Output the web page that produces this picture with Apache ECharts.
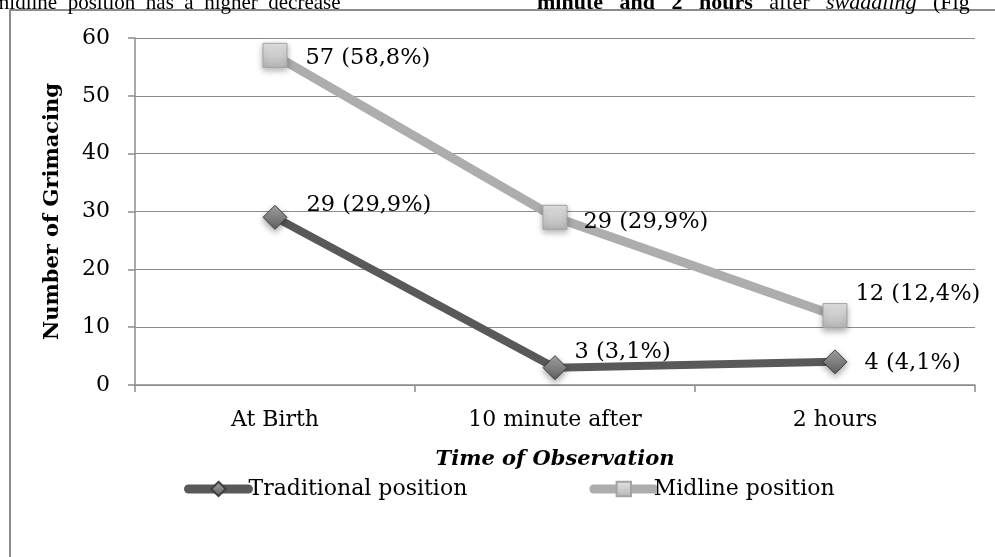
<!DOCTYPE html>
<html>
<head>
<meta charset="utf-8">
<script src="https://cdn.jsdelivr.net/npm/echarts@6/dist/echarts.min.js"></script>
<style>
  html, body { margin: 0; padding: 0; background: #fff; }
  #chart { width: 995px; height: 557px; }
</style>
</head>
<body>
<div id="chart"></div>
<script>
// Observation times on the x axis
const categories = ['At Birth', '10 minute after', '2 hours'];
// Number of grimacing infants per swaddling position
const traditional = [29, 3, 4];
const traditionalPct = ['29,9%', '3,1%', '4,1%'];
const midline = [57, 29, 12];
const midlinePct = ['58,8%', '29,9%', '12,4%'];
// Y axis scale
const yMin = 0, yMax = 60, yStep = 10;

// Per-point label nudges so labels sit beside their markers
const traditionalLabelOffsets = [[19, -12], [7, -15], [17, 1]];
const midlineLabelOffsets = [[18, 3], [16, 5], [8, -21]];

const serif = '"DejaVu Serif", "Liberation Serif", serif';
const bodyFont = '"Liberation Serif", serif';

function withLabels(values, pcts, offsets) {
  return values.map((v, i) => ({
    value: v,
    label: { offset: offsets[i], formatter: () => v + ' (' + pcts[i] + ')' }
  }));
}

const chart = echarts.init(document.getElementById('chart'), null, { renderer: 'canvas' });

chart.setOption({
  backgroundColor: '#ffffff',
  animation: false,
  graphic: [
    {
      type: 'rect',
      shape: { x: 10, y: 10, width: 1100, height: 700 },
      style: { fill: 'none', stroke: '#8c8c8c', lineWidth: 2 },
      silent: true
    },
    {
      type: 'text',
      style: {
        x: -7, y: 3,
        text: 'midline  position  has  a  higher  decrease',
        font: '21px ' + bodyFont,
        fill: '#000',
        verticalAlign: 'middle'
      },
      silent: true
    },
    {
      type: 'text',
      style: {
        x: 537, y: 3,
        text: '{b|minute   and   2   hours}   after   {i|swaddling}   (Fig',
        font: '22px ' + bodyFont,
        fill: '#000',
        verticalAlign: 'middle',
        rich: {
          b: { fontFamily: bodyFont, fontSize: 22, fontWeight: 'bold' },
          i: { fontFamily: bodyFont, fontSize: 22, fontStyle: 'italic' }
        }
      },
      silent: true
    }
  ],
  grid: { left: 135, right: 20, top: 38, bottom: 172, containLabel: false },
  xAxis: {
    type: 'category',
    data: categories,
    boundaryGap: true,
    name: 'Time of Observation',
    nameLocation: 'middle',
    nameGap: 64,
    nameTextStyle: { fontFamily: serif, fontSize: 21, fontWeight: 'bold', fontStyle: 'italic', color: '#000' },
    axisLine: { lineStyle: { color: '#8c8c8c', width: 1.5 } },
    axisTick: { show: true, length: 7, lineStyle: { color: '#8c8c8c', width: 1.5 } },
    axisLabel: { fontFamily: serif, fontSize: 22, color: '#000', margin: 24 },
    splitLine: { show: false }
  },
  yAxis: {
    type: 'value',
    min: yMin, max: yMax, interval: yStep,
    name: 'Number of Grimacing',
    nameLocation: 'middle',
    nameGap: 72,
    nameMoveOverlap: false,
    nameRotate: 90,
    nameTextStyle: { fontFamily: serif, fontSize: 21, fontWeight: 'bold', color: '#000' },
    axisLine: { show: true, lineStyle: { color: '#8c8c8c', width: 1.5 } },
    axisTick: { show: true, length: 7, lineStyle: { color: '#8c8c8c', width: 1.5 } },
    axisLabel: { fontFamily: serif, fontSize: 22, color: '#000', margin: 25 },
    splitLine: { show: true, lineStyle: { color: '#8c8c8c', width: 1.2 } }
  },
  legend: {
    left: 184, top: 478, padding: 0,
    itemWidth: 60, itemHeight: 18, itemGap: 122,
    textStyle: { fontFamily: serif, fontSize: 22, color: '#000', padding: [0, 0, 0, -5] },
    data: [
      { name: 'Traditional position', lineStyle: { width: 9, cap: 'round' } },
      { name: 'Midline position', lineStyle: { width: 9, cap: 'round' } }
    ]
  },
  series: [
    {
      name: 'Traditional position',
      type: 'line',
      data: withLabels(traditional, traditionalPct, traditionalLabelOffsets),
      symbol: 'diamond',
      symbolSize: 24,
      lineStyle: { color: '#595959', width: 8 },
      itemStyle: {
        color: new echarts.graphic.LinearGradient(0, 0, 0, 1, [
          { offset: 0, color: '#a6a6a6' },
          { offset: 1, color: '#5e5e5e' }
        ]),
        borderColor: '#3f3f3f', borderWidth: 1,
        shadowColor: 'rgba(0,0,0,0.35)', shadowBlur: 6, shadowOffsetY: 3
      },
      label: {
        show: true, position: 'right', distance: 0,
        fontFamily: serif, fontSize: 22.5, color: '#000'
      },
      z: 3
    },
    {
      name: 'Midline position',
      type: 'line',
      data: withLabels(midline, midlinePct, midlineLabelOffsets),
      symbol: 'rect',
      symbolSize: 24,
      lineStyle: { color: '#adadad', width: 9 },
      itemStyle: {
        color: new echarts.graphic.LinearGradient(0, 0, 0, 1, [
          { offset: 0, color: '#e4e4e4' },
          { offset: 1, color: '#b5b5b5' }
        ]),
        borderColor: '#a3a3a3', borderWidth: 1,
        shadowColor: 'rgba(0,0,0,0.3)', shadowBlur: 6, shadowOffsetY: 3
      },
      label: {
        show: true, position: 'right', distance: 0,
        fontFamily: serif, fontSize: 22.5, color: '#000'
      },
      z: 4
    }
  ]
});
</script>
</body>
</html>
